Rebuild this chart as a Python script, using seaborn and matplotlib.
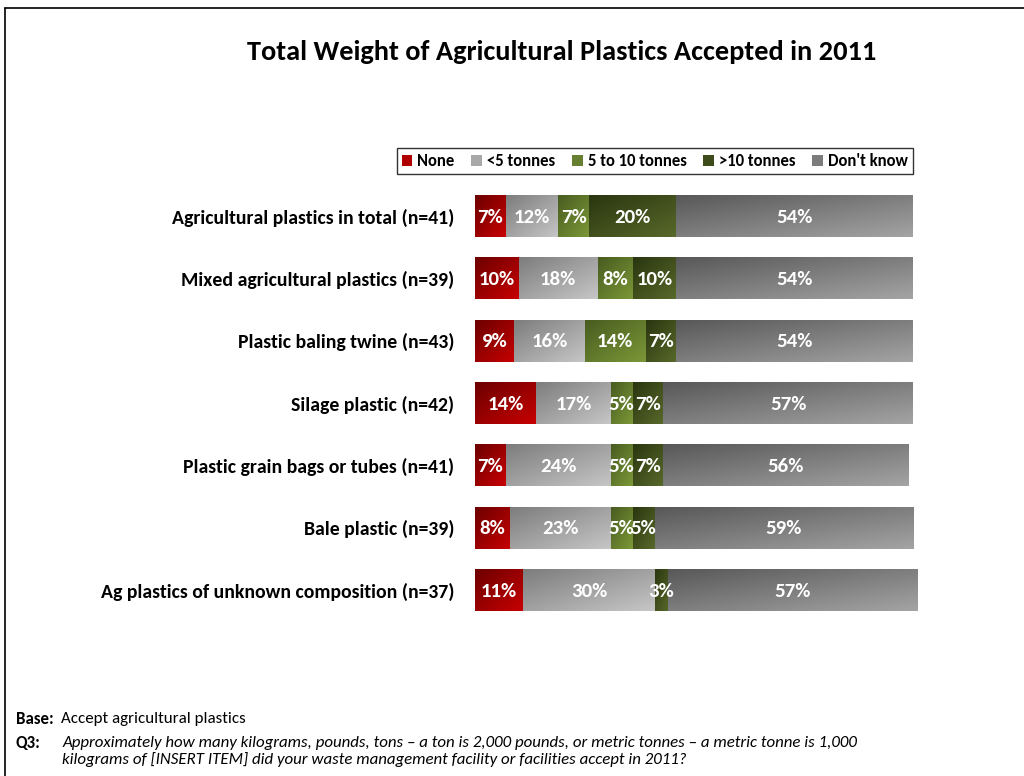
import numpy as np
import pandas as pd
import matplotlib
matplotlib.use("Agg")
import matplotlib.pyplot as plt
import seaborn as sns
from matplotlib.colors import LinearSegmentedColormap
from matplotlib.patches import Patch
from matplotlib.lines import Line2D
from matplotlib import font_manager

# ---- data -------------------------------------------------------------
items = [
    "Agricultural plastics in total (n=41)",
    "Mixed agricultural plastics (n=39)",
    "Plastic baling twine (n=43)",
    "Silage plastic (n=42)",
    "Plastic grain bags or tubes (n=41)",
    "Bale plastic (n=39)",
    "Ag plastics of unknown composition (n=37)",
]
series_names = ["None", "<5 tonnes", "5 to 10 tonnes", ">10 tonnes", "Don't know"]
none_pct = [7, 10, 9, 14, 7, 8, 11]
under5_pct = [12, 18, 16, 17, 24, 23, 30]
five_to_ten_pct = [7, 8, 14, 5, 5, 5, 0]
over10_pct = [20, 10, 7, 7, 7, 5, 3]
dont_know_pct = [54, 54, 54, 57, 56, 59, 57]

title = "Total Weight of Agricultural Plastics Accepted in 2011"

# gradient (dark, light) per series
gradients = [
    ("#6c0000", "#c80000"),
    ("#7d7d7d", "#c6c6c6"),
    ("#485c20", "#7c9838"),
    ("#2a3610", "#58692a"),
    ("#585858", "#a4a4a4"),
]
legend_colors = ["#b00000", "#a8a8a8", "#667f30", "#3e4c1c", "#7c7c7c"]

# ---- fonts ------------------------------------------------------------
sns.set_theme(style="white")
available = {f.name for f in font_manager.fontManager.ttflist}
family = next((f for f in ["Carlito", "Liberation Sans Narrow", "Lato", "DejaVu Sans"]
               if f in available), "DejaVu Sans")
plt.rcParams["font.family"] = [family, "DejaVu Sans"]
plt.rcParams["text.color"] = "black"
plt.rcParams["ytick.color"] = "black"

W, H = 1024, 776
fig = plt.figure(figsize=(W / 100, H / 100), dpi=100)
fig.patch.set_facecolor("white")

ax = fig.add_axes([475 / W, 1 - 621.2 / H, 438 / W, (621.2 - 184.8) / H])

values = [none_pct, under5_pct, five_to_ten_pct, over10_pct, dont_know_pct]
df = pd.DataFrame({name: v for name, v in zip(series_names, values)}, index=items)
cum_end = df.cumsum(axis=1)
cum_start = cum_end - df

bar_h = 0.67
patches_by_series = {}
# draw cumulative bars, longest first so shorter ones sit on top
for k in range(len(series_names) - 1, -1, -1):
    name = series_names[k]
    before = len(ax.patches)
    sns.barplot(x=cum_end[name].values, y=items, order=items, orient="h",
                color=legend_colors[k], width=bar_h, errorbar=None,
                linewidth=0, ax=ax)
    patches_by_series[name] = ax.patches[before:]

# diagonal gradient fill for each segment
ny, nx = 60, 120
u = np.linspace(0, 1, nx)[None, :]
v = np.linspace(0, 1, ny)[:, None]
grad = 0.5 * u + 0.5 * v
for k, name in enumerate(series_names):
    cmap = LinearSegmentedColormap.from_list(name, gradients[k])
    for i, item in enumerate(items):
        x0, x1 = cum_start.loc[item, name], cum_end.loc[item, name]
        if x1 - x0 <= 0:
            continue
        im = ax.imshow(grad, cmap=cmap, aspect="auto", origin="upper",
                       extent=(x0, x1, i + bar_h / 2, i - bar_h / 2),
                       zorder=3, interpolation="bilinear")
        im.set_clip_path(patches_by_series[name][i])
        ax.text((x0 + x1) / 2, i + 0.02, f"{df.loc[item, name]}%",
                ha="center", va="center", color="white",
                fontsize=15, fontweight="bold", zorder=5)

ax.set_xlim(0, 100)
ax.set_ylim(len(items) - 0.5, -0.5)
for s in ax.spines.values():
    s.set_visible(False)
ax.set_xticks([])
ax.set_xlabel("")
ax.set_ylabel("")
ax.tick_params(axis="y", length=0, pad=15)
ax.set_yticks(range(len(items)))
ax.set_yticklabels(items, fontsize=14.2, fontweight="bold", color="black")

# legend
handles = [Patch(facecolor=c, edgecolor="none") for c in legend_colors]
leg = fig.legend(handles, series_names, loc="upper right",
                 bbox_to_anchor=(913 / W, 1 - 148 / H), bbox_transform=fig.transFigure,
                 ncol=5, frameon=True, fancybox=False, borderaxespad=0,
                 handlelength=0.65, handleheight=0.65, handletextpad=0.3,
                 columnspacing=1.0, borderpad=0.3,
                 prop={"size": 12, "weight": "bold"})
leg.get_frame().set_edgecolor("black")
leg.get_frame().set_linewidth(1.0)

# title
fig.text(562 / W, 1 - 52 / H, title, ha="center", va="center",
         fontsize=20.4, fontweight="bold")

# notes
fs = 12.2
fig.text(16 / W, 1 - 719 / H, "Base:", ha="left", va="center", fontsize=fs, fontweight="bold")
fig.text(61 / W, 1 - 719 / H, "Accept agricultural plastics", ha="left", va="center", fontsize=fs)
fig.text(16 / W, 1 - 743 / H, "Q3:", ha="left", va="center", fontsize=fs, fontweight="bold")
fig.text(62 / W, 1 - 743 / H,
         "Approximately how many kilograms, pounds, tons \u2013 a ton is 2,000 pounds, or metric tonnes \u2013 a metric tonne is 1,000",
         ha="left", va="center", fontsize=fs, style="italic")
fig.text(62 / W, 1 - 760 / H,
         "kilograms of [INSERT ITEM] did your waste management facility or facilities accept in 2011?",
         ha="left", va="center", fontsize=fs, style="italic")

# page frame
fig.add_artist(Line2D([5 / W, 5 / W], [0, 1 - 8 / H], color="black", lw=1.2,
                      transform=fig.transFigure))
fig.add_artist(Line2D([5 / W, 1.0], [1 - 8 / H, 1 - 8 / H], color="black", lw=1.2,
                      transform=fig.transFigure))

fig.savefig("out.png", dpi=100)
